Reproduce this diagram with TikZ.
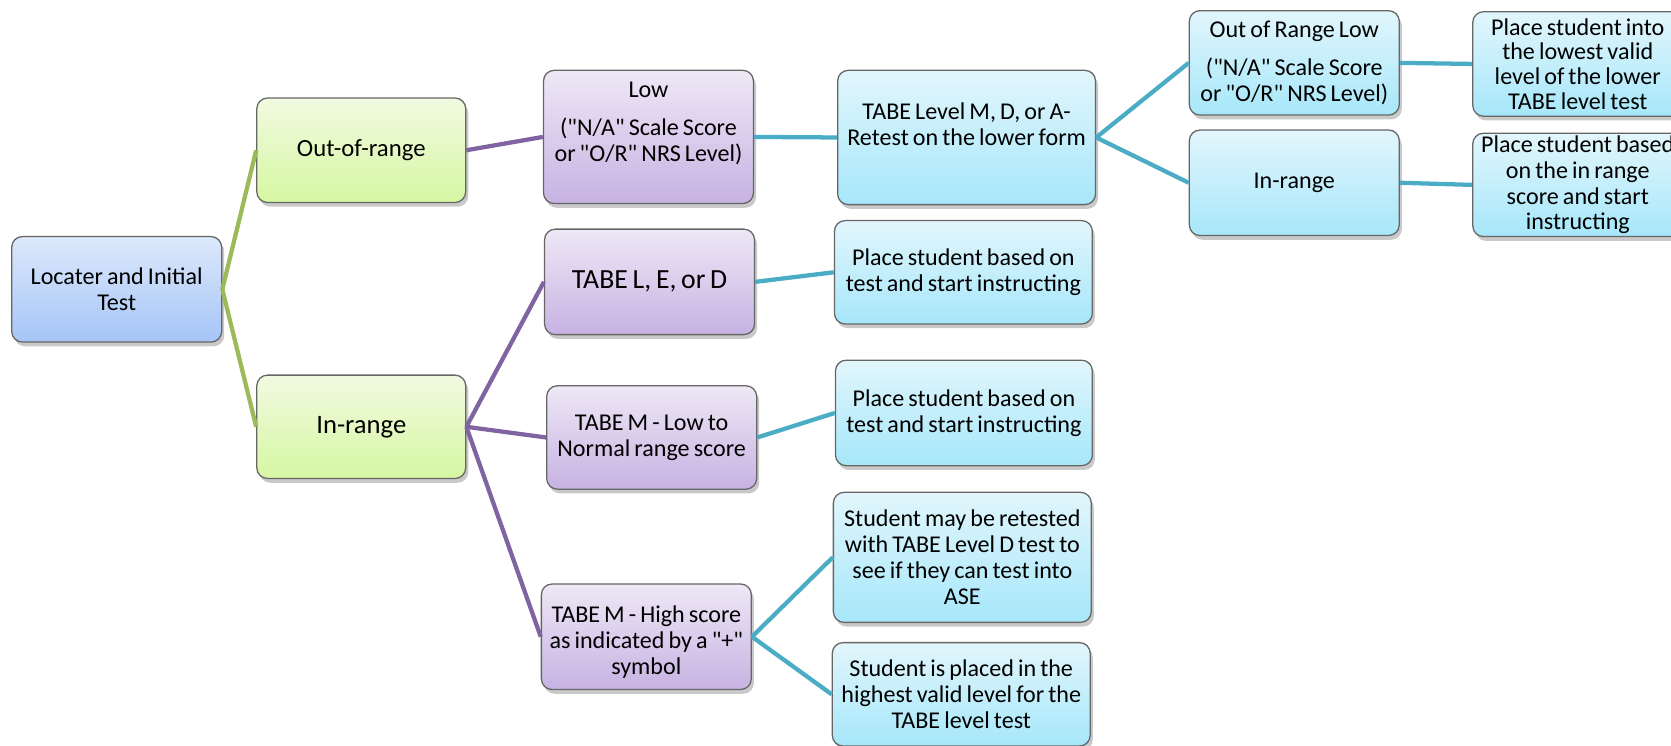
\documentclass[tikz,border=0pt]{standalone}
\usepackage{fontspec}
\setmainfont{Carlito}[Ligatures=TeXOff, WordSpace=0.75]
\usetikzlibrary{shadows}
\definecolor{blueT}{HTML}{DDE8FB}
\definecolor{blueB}{HTML}{A5C5F7}
\definecolor{greenT}{HTML}{F1FAE1}
\definecolor{greenB}{HTML}{D6F7A2}
\definecolor{purT}{HTML}{EEE8F6}
\definecolor{purB}{HTML}{C7B2E2}
\definecolor{cyaT}{HTML}{E2F6FC}
\definecolor{cyaB}{HTML}{A6E7FA}
\definecolor{gLine}{HTML}{9BBB59}
\definecolor{pLine}{HTML}{8064A2}
\definecolor{cLine}{HTML}{4BACC6}
\begin{document}
\begin{tikzpicture}[x=0.5pt,y=-0.5pt,
  box/.style={draw=black!60, line width=0.6pt, rounded corners=5pt, align=center, inner sep=1pt,
    font=\fontsize{11.3}{12.2}\selectfont,
    drop shadow={shadow xshift=1.2pt, shadow yshift=-2pt, opacity=0.3, fill=black!70}},
  sz/.style 2 args={minimum width=#1*0.5pt, minimum height=#2*0.5pt},
  rootbox/.style={box, top color=blueT, bottom color=blueB},
  greenbox/.style={box, top color=greenT, bottom color=greenB},
  purbox/.style={box, top color=purT, bottom color=purB},
  cyabox/.style={box, top color=cyaT, bottom color=cyaB},
  gfont/.style={font=\fontsize{13}{14}\selectfont},
  bigfont/.style={font=\fontsize{12.5}{13.5}\selectfont},
  gconn/.style={draw=gLine, line width=2pt},
  pconn/.style={draw=pLine, line width=2pt},
  cconn/.style={draw=cLine, line width=2pt}]
\useasboundingbox (0,0) rectangle (1568,700);
\clip (0,0) rectangle (1568,700);

\node[rootbox, sz={197}{99}] (root) at (109.5,271.5) {Locater and Initial\\Test};
\node[greenbox, sz={196}{98}, font=\fontsize{11.6}{13}\selectfont] (oor) at (339,141) {Out-of-range};
\node[greenbox, sz={196}{97}, bigfont] (irg) at (339,400.5) {In-range};

\node[purbox, sz={197}{125}] (low) at (608.5,128.5) {Low\\[5.5pt]("N/A" Scale Score\\or "O/R" NRS Level)\\[2pt]\mbox{}};
\node[cyabox, sz={242}{126}] (tabeM) at (907,129) {TABE Level M, D, or A-\\Retest on the lower form\\\mbox{}};
\node[cyabox, sz={197}{98}] (orl) at (1214.5,59) {Out of Range Low\\[5.5pt]("N/A" Scale Score\\or "O/R" NRS Level)};
\node[cyabox, sz={197}{99}] (irb) at (1214.5,171.5) {In-range};
\node[cyabox, sz={197}{98}, font=\fontsize{11.3}{11.6}\selectfont] (pinto) at (1480.5,60) {Place student into\\the lowest valid\\level of the lower\\TABE level test};
\node[cyabox, sz={197}{97}, font=\fontsize{11.3}{12.1}\selectfont] (pbased) at (1480.5,173.5) {Place student based\\on the in range\\score and start\\instructing};

\node[purbox, sz={197}{99}, gfont] (tabeL) at (609.5,264.5) {TABE L, E, or D};
\node[cyabox, sz={242}{97}] (place1) at (904,255.5) {Place student based on\\test and start instructing};
\node[purbox, sz={197}{97}] (tabeMlow) at (611.5,410.5) {TABE M - Low to\\Normal range score};
\node[cyabox, sz={241}{99}] (place2) at (904.5,387.5) {Place student based on\\test and start instructing};
\node[purbox, sz={197}{99}] (tabeMhigh) at (606.5,597.5) {\rule{0pt}{13pt}TABE M - High score\\as indicated by a "+"\\symbol};
\node[cyabox, sz={242}{122}] (retest) at (903,523) {Student may be retested\\with TABE Level D test to\\see if they can test into\\ASE};
\node[cyabox, sz={242}{97}] (placed) at (902,651.5) {Student is placed in the\\highest valid level for the\\TABE level test};

\path[gconn] (root.east) -- (oor.west);
\path[gconn] (root.east) -- (irg.west);
\path[pconn] (oor.east) -- (low.west);
\path[cconn] (low.east) -- (tabeM.west);
\path[cconn] (tabeM.east) -- (orl.west);
\path[cconn] (tabeM.east) -- (irb.west);
\path[cconn] (orl.east) -- (pinto.west);
\path[cconn] (irb.east) -- (pbased.west);
\path[pconn] (irg.east) -- (tabeL.west);
\path[pconn] (irg.east) -- (tabeMlow.west);
\path[pconn] (irg.east) -- (tabeMhigh.west);
\path[cconn] (tabeL.east) -- (place1.west);
\path[cconn] (tabeMlow.east) -- (place2.west);
\path[cconn] (tabeMhigh.east) -- (retest.west);
\path[cconn] (tabeMhigh.east) -- (placed.west);
\end{tikzpicture}
\end{document}
